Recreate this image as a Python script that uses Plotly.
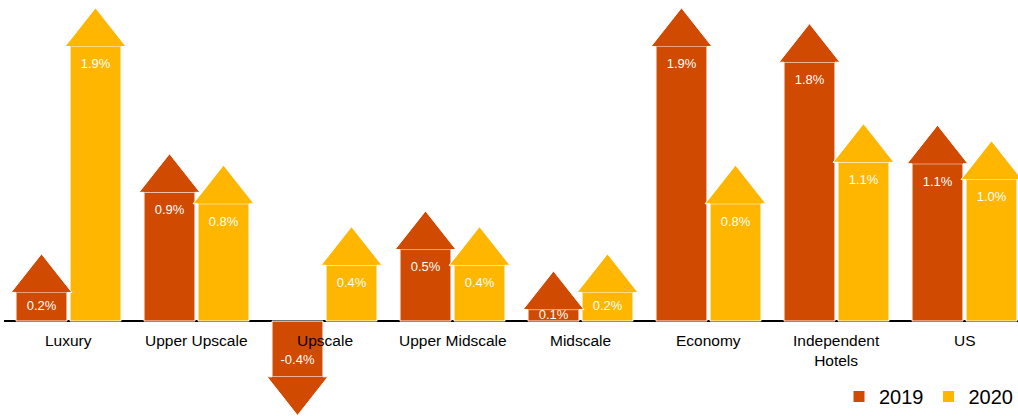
import plotly.graph_objects as go

# ---- data ----
categories = ["Luxury", "Upper Upscale", "Upscale", "Upper Midscale", "Midscale",
              "Economy", "Independent<br>Hotels", "US"]
v2019 = [0.20, 0.90, -0.39, 0.50, 0.08, 1.92, 1.81, 1.10]
v2020 = [1.92, 0.82, 0.39, 0.39, 0.20, 0.82, 1.11, 0.99]
series_names = ["2019", "2020"]
series_colors = ["#D04A02", "#FFB600"]

# ---- geometry (data units) ----
OFFSET = 0.211      # centre of each bar from category centre
RECT_HALF = 0.199   # half width of arrow body
HEAD_HALF = 0.238   # half width of arrow head
HEAD_H = 0.27       # arrow head height (y units)
FONT = "Arial, Liberation Sans, sans-serif"

fig = go.Figure()
xs = list(range(len(categories)))

# arrow bodies
for name, vals, col, sgn in zip(series_names, [v2019, v2020], series_colors, [-1, 1]):
    fig.add_trace(go.Bar(
        x=xs, y=vals, name=name,
        width=2 * RECT_HALF,
        offset=sgn * OFFSET - RECT_HALF,
        marker=dict(color=col, line=dict(color="white", width=1)),
        showlegend=True,
    ))

# arrow heads
for name, vals, col, sgn in zip(series_names, [v2019, v2020], series_colors, [-1, 1]):
    for i, v in enumerate(vals):
        c = i + sgn * OFFSET
        d = 1 if v >= 0 else -1
        px = [c - RECT_HALF, c - HEAD_HALF, c, c + HEAD_HALF, c + RECT_HALF]
        py = [v, v, v + d * HEAD_H, v, v]
        fig.add_trace(go.Scatter(
            x=px, y=py, mode="lines", fill="toself", fillcolor=col,
            line=dict(color="white", width=1), showlegend=False, hoverinfo="skip",
        ))

# value labels
for vals, sgn in zip([v2019, v2020], [-1, 1]):
    ty = [max(v - 0.13, v / 2) if v >= 0 else v + 0.11 for v in vals]
    fig.add_trace(go.Scatter(
        x=[i + sgn * OFFSET for i in xs], y=ty, mode="text",
        text=[f"{v:.1f}%" for v in vals],
        textfont=dict(color="white", size=13, family=FONT),
        showlegend=False, hoverinfo="skip",
    ))

# category labels
for i, c in enumerate(categories):
    fig.add_annotation(x=i, y=0, xref="x", yref="y", text=c, showarrow=False,
                       yanchor="top", yshift=-9,
                       font=dict(size=15.5, color="black", family=FONT))

fig.update_layout(
    width=1018, height=416,
    margin=dict(l=4, r=0, t=0, b=0),
    paper_bgcolor="white", plot_bgcolor="white",
    barmode="overlay",
    xaxis=dict(range=[-0.504, 7.418], showgrid=False, showticklabels=False,
               zeroline=False, showline=False, ticks=""),
    yaxis=dict(range=[-0.664, 2.245], showgrid=False, showticklabels=False,
               zeroline=True, zerolinecolor="black", zerolinewidth=2, showline=False),
    legend=dict(orientation="h", x=1, xanchor="right", y=0, yanchor="bottom",
                font=dict(size=20, family=FONT, color="black"),
                bgcolor="rgba(0,0,0,0)", traceorder="normal"),
    font=dict(family=FONT),
)

fig.write_html("out.html")
